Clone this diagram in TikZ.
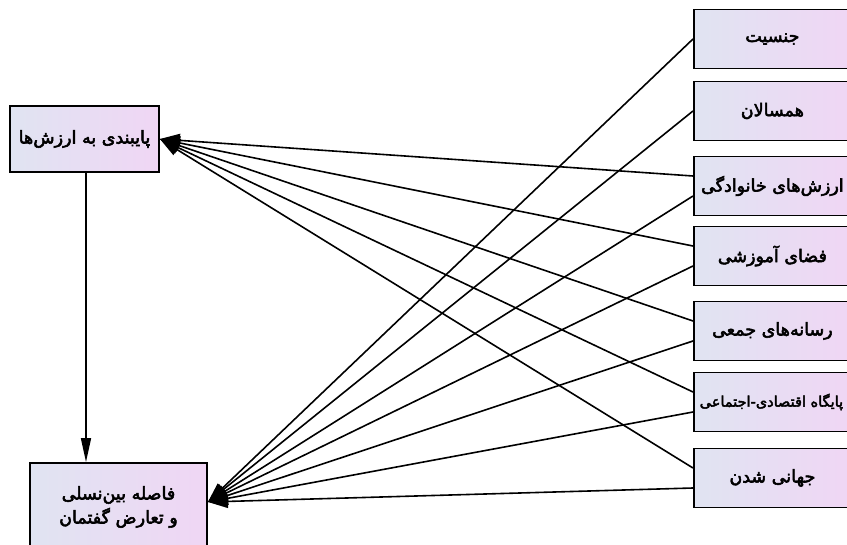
\documentclass[tikz,border=0pt]{standalone}
\usepackage{fontspec}
\TeXXeTstate=1
\newfontfamily\fa[Script=Arabic,FakeBold=3]{DejaVu Sans}
\usetikzlibrary{arrows.meta,calc}
\definecolor{boxL}{RGB}{224,228,242}
\definecolor{boxR}{RGB}{240,214,244}
\begin{document}
\begin{tikzpicture}[x=1pt,y=-1pt,
  box/.style={draw=black, line width=1.8pt, left color=boxL, right color=boxR,
    inner sep=0pt, align=center, font=\fa\fontsize{17.5}{28}\selectfont},
  rbox/.style={box, minimum width=157pt, minimum height=59pt, anchor=west},
  conn/.style={line width=1.6pt},
  arr/.style={conn, -{Triangle[length=20pt,width=13pt]}},
  varr/.style={conn, -{Triangle[length=24pt,width=10pt]}}]
\clip (0,0) rectangle (847,545);
\fill[white] (0,0) rectangle (847,545);
% left boxes
\node[box, minimum width=149pt, minimum height=66pt] (tl) at (84.5,139) {\beginR پایبندی به ارزش‌ها\endR};
\node[box, minimum width=177pt, minimum height=88pt] (bt) at (118.5,507) {\beginR فاصله بین‌نسلی\endR\\[-4pt]\beginR و تعارض گفتمان\endR};
% right boxes
\node[rbox] (r1) at (693,39)  {\beginR جنسیت\endR};
\node[rbox] (r2) at (693,111) {\beginR همسالان\endR};
\node[rbox] (r3) at (693,186) {\beginR ارزش‌های خانوادگی\endR};
\node[rbox] (r4) at (693,256) {\beginR فضای آموزشی\endR};
\node[rbox] (r5) at (693,331) {\beginR رسانه‌های جمعی\endR};
\node[rbox, font=\fa\fontsize{14.5}{20}\selectfont] (r6) at (693,402) {\hspace*{-2pt}\beginR پایگاه اقتصادی-اجتماعی\endR};
\node[rbox] (r7) at (693,478) {\beginR جهانی شدن\endR};
\coordinate (tip) at ([yshift=5pt]bt.east);
% vertical arrow
\draw[varr] ([xshift=1.5pt]tl.south) -- ([xshift=1.5pt]tl.south |- bt.north);
% lines to top-left box
\foreach \r in {r3,r4,r5,r6,r7}
  \draw[arr] ([yshift=10pt]\r.west) -- (tl.east);
% lines to bottom box
\draw[arr] (r1.west) -- (tip);
\draw[arr] (r2.west) -- (tip);
\foreach \r in {r3,r4,r5,r6,r7}
  \draw[arr] ([yshift=-10pt]\r.west) -- (tip);
\end{tikzpicture}
\end{document}
